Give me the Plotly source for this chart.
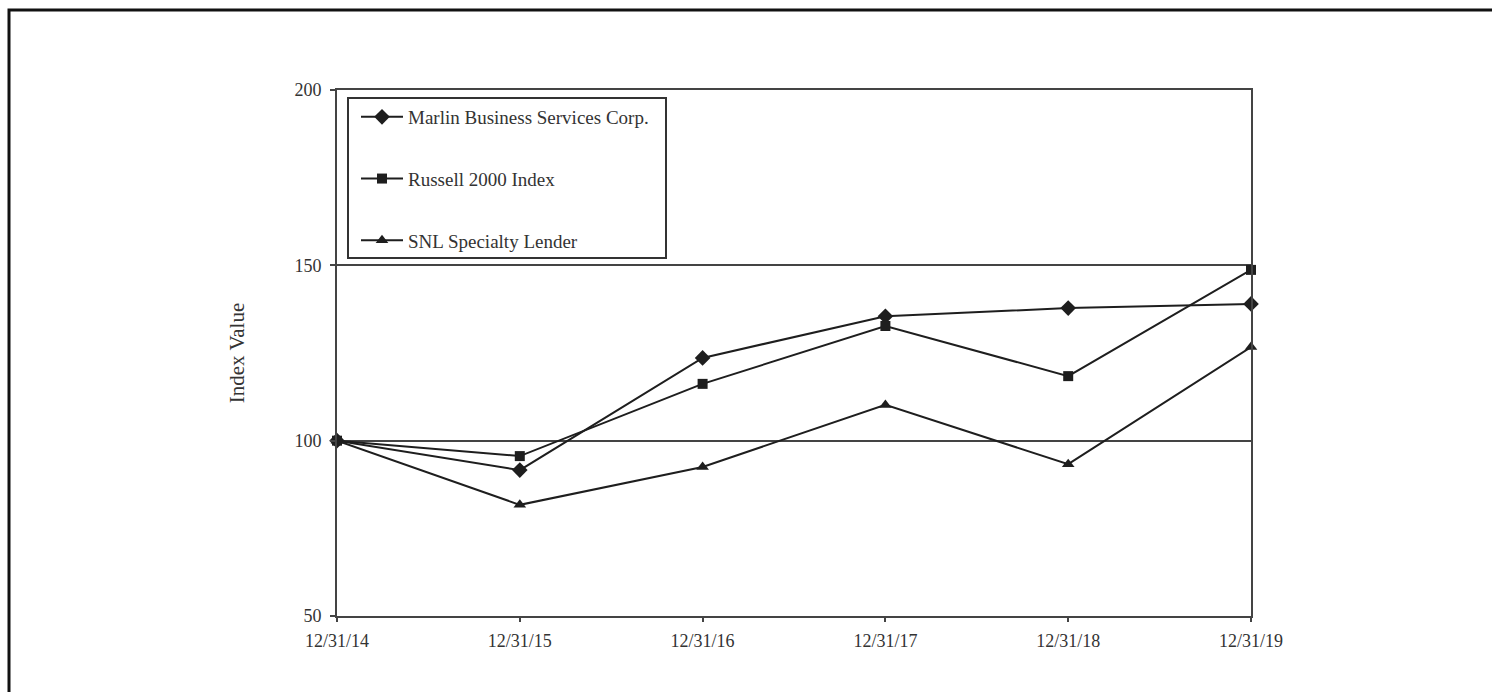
import plotly.graph_objects as go

dates = ["12/31/14", "12/31/15", "12/31/16", "12/31/17", "12/31/18", "12/31/19"]
marlin = [100, 91.6, 123.6, 135.5, 137.8, 139.0]
russell = [100, 95.6, 116.2, 132.7, 118.4, 148.7]
snl = [100, 81.7, 92.5, 110.2, 93.3, 126.7]
y_ticks = [50, 100, 150, 200]

W, H = 1492, 692
L, R, T, B = 337, 1251, 90, 616

def px_x(p):
    return (p - L) / (R - L)

def px_y(p):
    return (B - p) / (B - T)

xs = list(range(len(dates)))
fig = go.Figure()
series = [
    ("Marlin Business Services Corp.", marlin, "diamond", 12),
    ("Russell 2000 Index", russell, "square", 10),
    ("SNL Specialty Lender", snl, "triangle-up", 11),
]
for i, (name, vals, sym, sz) in enumerate(series):
    fig.add_trace(go.Scatter(
        x=xs, y=vals, name=name, mode="lines+markers",
        line=dict(color="#1e1e1e", width=2),
        marker=dict(symbol=sym, size=sz, color="#1e1e1e"),
        legendgroup=f"g{i}", cliponaxis=False,
    ))

font_family = "Liberation Serif, Times New Roman, serif"
fig.update_layout(
    width=W, height=H,
    margin=dict(l=L, r=W - R, t=T, b=H - B),
    paper_bgcolor="white", plot_bgcolor="white",
    font=dict(family=font_family, size=18, color="#333333"),
    showlegend=True,
    legend=dict(
        x=px_x(356), y=px_y(98), xanchor="left", yanchor="top",
        bgcolor="rgba(0,0,0,0)", borderwidth=0,
        tracegroupgap=34, itemwidth=42,
        font=dict(family=font_family, size=19, color="#333333"),
    ),
    xaxis=dict(
        range=[0, 5], tickmode="array", tickvals=xs, ticktext=dates,
        showgrid=False, zeroline=False,
        showline=True, linecolor="#444444", linewidth=2, mirror=True,
        ticks="outside", ticklen=4, tickcolor="#444444", tickwidth=2,
        ticklabelstandoff=3,
    ),
    yaxis=dict(
        range=[50, 200], tickmode="array", tickvals=y_ticks,
        showgrid=True, gridcolor="#444444", gridwidth=2, zeroline=False,
        showline=True, linecolor="#444444", linewidth=2, mirror=True,
        ticks="outside", ticklen=5, tickcolor="#444444", tickwidth=2,
        ticklabelstandoff=5,
        title=dict(text="Index Value", font=dict(size=21), standoff=44),
    ),
    shapes=[
        dict(type="rect", xref="paper", yref="paper",
             x0=px_x(348), x1=px_x(666), y0=px_y(258), y1=px_y(98),
             line=dict(color="#333333", width=2), fillcolor="rgba(0,0,0,0)"),
        dict(type="rect", xref="paper", yref="paper",
             x0=px_x(9), x1=px_x(1510), y0=px_y(710), y1=px_y(10),
             line=dict(color="#111111", width=3), fillcolor="rgba(0,0,0,0)"),
    ],
)

fig.write_html("out.html")
